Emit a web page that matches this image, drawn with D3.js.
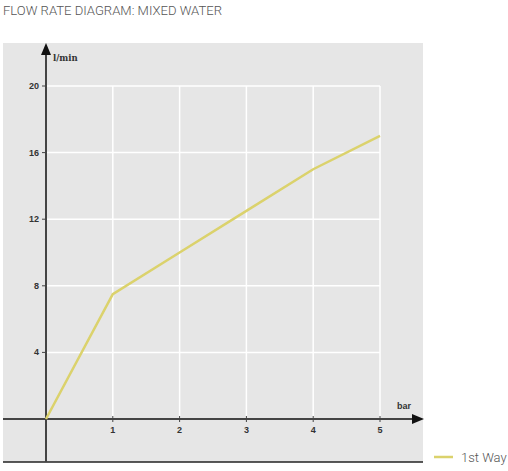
<!DOCTYPE html>
<html>
<head>
<meta charset="utf-8">
<script src="https://cdn.jsdelivr.net/npm/d3@7"></script>
<style>
  body { margin: 0; background: #fff; }
  svg { display: block; }
  .tick-label { font-family: "Liberation Sans", Arial, sans-serif; font-size: 9px; font-weight: bold; fill: #333; }
</style>
</head>
<body>
<svg id="chart" width="508" height="471"></svg>
<script>
// chart data
const pressure = [0, 1, 2, 3, 4, 5];          // bar
const flowFirstWay = [0, 7.5, 10, 12.5, 15, 17]; // l/min
const xTicks = [1, 2, 3, 4, 5];
const yTicks = [4, 8, 12, 16, 20];
const seriesName = '1st Way';

const svg = d3.select('#chart');

const x = d3.scaleLinear().domain([0, 5]).range([46, 380]);
const y = d3.scaleLinear().domain([0, 20]).range([419, 86]);

// title
svg.append('text')
  .attr('x', 3).attr('y', 15)
  .attr('textLength', 219).attr('lengthAdjust', 'spacingAndGlyphs')
  .style('font-family', 'Roboto, sans-serif').style('font-weight', 300)
  .style('font-size', '13px').style('fill', '#555')
  .text('FLOW RATE DIAGRAM: MIXED WATER');

// grey plot area
svg.append('rect')
  .attr('x', 3).attr('y', 43).attr('width', 420).attr('height', 419)
  .attr('fill', '#e6e6e6');

// grid
const grid = svg.append('g').attr('stroke', '#fff').attr('stroke-width', 1.5);
grid.selectAll('.vg').data(xTicks).join('line')
  .attr('x1', d => x(d)).attr('x2', d => x(d))
  .attr('y1', y(20)).attr('y2', y(0));
grid.selectAll('.hg').data(yTicks).join('line')
  .attr('x1', x(0)).attr('x2', x(5))
  .attr('y1', d => y(d)).attr('y2', d => y(d));

// bottom rule
svg.append('line')
  .attr('x1', 3).attr('x2', 423).attr('y1', 462).attr('y2', 462)
  .attr('stroke', '#222').attr('stroke-width', 1.5);

// axes
const axisColor = '#444';
svg.append('line')
  .attr('x1', 3).attr('x2', 414).attr('y1', y(0)).attr('y2', y(0))
  .attr('stroke', axisColor).attr('stroke-width', 2);
svg.append('path')
  .attr('d', `M424,${y(0)} L412,${y(0) - 5} L412,${y(0) + 5} Z`)
  .attr('fill', '#111');
svg.append('line')
  .attr('x1', x(0)).attr('x2', x(0)).attr('y1', 54).attr('y2', 462)
  .attr('stroke', axisColor).attr('stroke-width', 2);
svg.append('path')
  .attr('d', `M${x(0)},43 L${x(0) - 5},55 L${x(0) + 5},55 Z`)
  .attr('fill', '#111');

// ticks + labels
svg.selectAll('.xt').data(xTicks).join('line')
  .attr('x1', d => x(d)).attr('x2', d => x(d))
  .attr('y1', y(0) - 3).attr('y2', y(0) + 3)
  .attr('stroke', axisColor).attr('stroke-width', 1);
svg.selectAll('.xl').data(xTicks).join('text')
  .attr('class', 'tick-label')
  .attr('x', d => x(d)).attr('y', y(0) + 14)
  .attr('text-anchor', 'middle')
  .text(d => d);
svg.selectAll('.yt').data(yTicks).join('line')
  .attr('x1', x(0) - 4).attr('x2', x(0))
  .attr('y1', d => y(d)).attr('y2', d => y(d))
  .attr('stroke', axisColor).attr('stroke-width', 1);
svg.selectAll('.yl').data(yTicks).join('text')
  .attr('class', 'tick-label')
  .attr('x', x(0) - 7).attr('y', d => y(d) + 3)
  .attr('text-anchor', 'end')
  .text(d => d);

// axis titles
svg.append('text')
  .attr('class', 'tick-label')
  .attr('x', 53).attr('y', 61)
  .style('font-family', '"DejaVu Serif", serif').style('font-size', '8.5px')
  .text('l/min');
svg.append('text')
  .attr('class', 'tick-label')
  .attr('x', 397).attr('y', 409)
  .text('bar');

// series line
const line = d3.line().x((d, i) => x(pressure[i])).y(d => y(d));
svg.append('path')
  .datum(flowFirstWay)
  .attr('d', line)
  .attr('fill', 'none')
  .attr('stroke', '#dbd26c')
  .attr('stroke-width', 2.5);

// legend
svg.append('line')
  .attr('x1', 434).attr('x2', 453).attr('y1', 457).attr('y2', 457)
  .attr('stroke', '#dbd26c').attr('stroke-width', 2.5);
svg.append('text')
  .attr('x', 461).attr('y', 462)
  .style('font-family', 'Roboto, sans-serif').style('font-weight', 300)
  .style('font-size', '13px').style('fill', '#555')
  .text(seriesName);
</script>
</body>
</html>
